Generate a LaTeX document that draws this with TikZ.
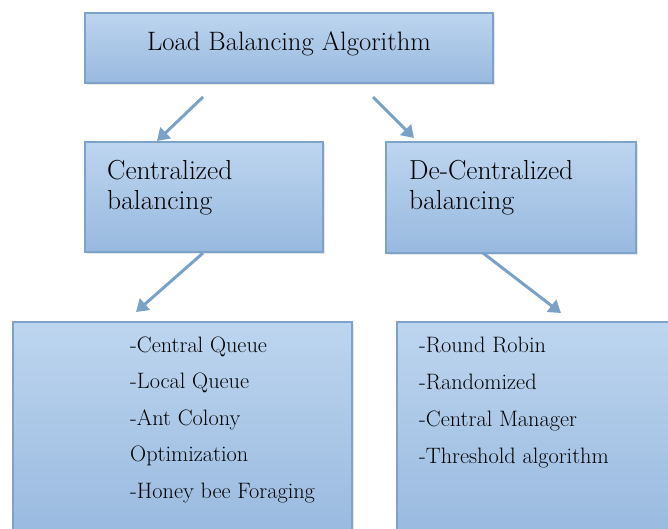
\documentclass[tikz,border=0pt]{standalone}
\usetikzlibrary{arrows.meta,shadows}
\definecolor{boxtop}{HTML}{BDD5EF}
\definecolor{boxbot}{HTML}{98B9DF}
\definecolor{boxline}{HTML}{7EA3CB}
\definecolor{arrowblue}{HTML}{7AA2C8}

\begin{document}
\begin{tikzpicture}[x=1pt,y=-1pt]
  \tikzstyle{box}=[rectangle,draw=boxline,line width=2pt,top color=boxtop,bottom color=boxbot,inner sep=0pt,
    drop shadow={opacity=0.2,shadow xshift=1.5pt,shadow yshift=-1.5pt}]
  \tikzstyle{title}=[inner sep=0pt,font=\fontsize{26.6}{30}\selectfont]
  \tikzstyle{head}=[inner sep=0pt,anchor=base west,font=\fontsize{27.5}{30}\selectfont]
  \tikzstyle{item}=[inner sep=0pt,anchor=base west,font=\fontsize{22.3}{24}\selectfont]
  \tikzstyle{arr}=[draw=arrowblue,line width=3pt,-{Triangle[length=12pt,width=15pt]}]
  \useasboundingbox (0,0) rectangle (668,528);

  \node[box,minimum width=408pt,minimum height=70pt] (B_0) at (289,48) {};
  \node[box,minimum width=238pt,minimum height=110pt] (B_1) at (204,197) {};
  \node[box,minimum width=250pt,minimum height=111pt] (B_2) at (511,197.5) {};
  \node[box,minimum width=339pt,minimum height=220pt] (B_3) at (182.5,432) {};
  \node[box,minimum width=290pt,minimum height=220pt] (B_4) at (542,432) {};

  \node[title,anchor=base] (T_0) at (289,50) {Load Balancing Algorithm};

  \node[head] (T_1) at (107,179) {Centralized};
  \node[head] (T_2) at (107,209) {balancing};
  \node[head] (T_3) at (409,179) {De-Centralized};
  \node[head] (T_4) at (409,209) {balancing};

  \node[item] (L_1) at (130,352) {-Central Queue};
  \node[item] (L_2) at (130,388.5) {-Local Queue};
  \node[item] (L_3) at (130,425) {-Ant Colony};
  \node[item] (L_4) at (130,461.5) {Optimization};
  \node[item] (L_5) at (130,498) {-Honey bee Foraging};

  \node[item] (R_1) at (419,352) {-Round Robin};
  \node[item] (R_2) at (419,389) {-Randomized};
  \node[item] (R_3) at (419,426) {-Central Manager};
  \node[item] (R_4) at (419,463) {-Threshold algorithm};

  \coordinate (A_0) at (203,97);
  \coordinate (A_1) at (157,141);
  \coordinate (A_2) at (373,97);
  \coordinate (A_3) at (414,138);
  \coordinate (A_4) at (203,253);
  \coordinate (A_5) at (136,312);
  \coordinate (A_6) at (483,253);
  \coordinate (A_7) at (561,313);

  \draw[arr] (A_0) -- (A_1);
  \draw[arr] (A_2) -- (A_3);
  \draw[arr] (A_4) -- (A_5);
  \draw[arr] (A_6) -- (A_7);

\end{tikzpicture}
\end{document}
